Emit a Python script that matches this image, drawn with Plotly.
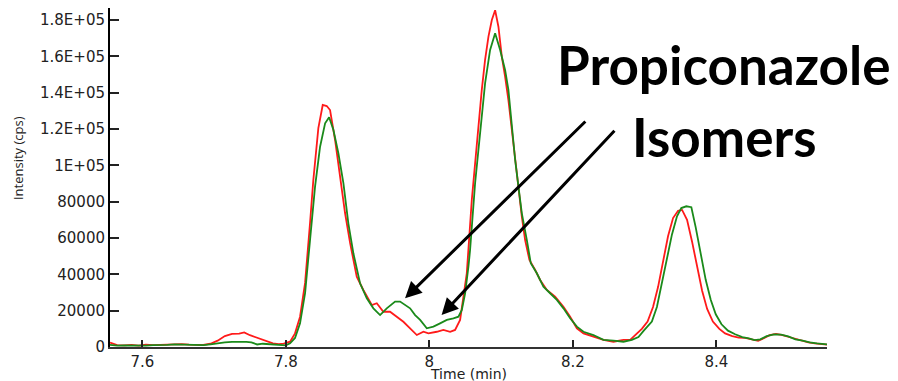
import plotly.graph_objects as go

# ---- data (time in min, intensity in cps) ----
red_time = [7.555, 7.560, 7.565, 7.575, 7.585, 7.595, 7.605, 7.615, 7.625, 7.635, 7.645, 7.655, 7.665,
            7.675, 7.685, 7.695, 7.705, 7.715, 7.725, 7.735, 7.742, 7.750, 7.758, 7.766, 7.774, 7.782,
            7.790, 7.797, 7.8059, 7.8128, 7.8198, 7.8268, 7.8337, 7.8383, 7.8453, 7.8514, 7.8570,
            7.8616, 7.8686, 7.8756, 7.8825, 7.8895, 7.8988, 7.9080, 7.9197, 7.9267, 7.9359, 7.9452,
            7.9546, 7.9638, 7.9731, 7.9825, 7.9917, 7.9986, 8.0103, 8.0195, 8.0289, 8.0358, 8.0428,
            8.0521, 8.0591, 8.0661, 8.0730, 8.0776, 8.0823, 8.0870, 8.0916, 8.0962, 8.1009, 8.1055,
            8.1101, 8.1149, 8.1195, 8.1241, 8.1288, 8.1334, 8.1394, 8.1474, 8.1543, 8.1637, 8.1752,
            8.1868, 8.1961, 8.2055, 8.2147, 8.2286, 8.2425, 8.2565, 8.2704, 8.2797, 8.2867, 8.296,
            8.304, 8.3116, 8.3186, 8.3256, 8.3325, 8.3395, 8.3465, 8.3521, 8.359, 8.366, 8.373,
            8.380, 8.387, 8.395, 8.404, 8.412, 8.422, 8.431, 8.440, 8.449, 8.458, 8.466, 8.474,
            8.483, 8.492, 8.501, 8.510, 8.519, 8.528, 8.537, 8.546, 8.554]
red_intensity = [2400, 1800, 1000, 900, 1200, 800, 1300, 1000, 1200, 1000, 1400, 1600, 1300,
                 1200, 1100, 1800, 3500, 6000, 7200, 7400, 8000, 6500, 5400, 4200, 3000, 2000,
                 1600, 1800, 2900, 7500, 16700, 35300, 68300, 92000, 120500, 133300, 132700,
                 130500, 114000, 93800, 73800, 57300, 38700, 31400, 23100, 24100, 19400, 19400,
                 16700, 13900, 10300, 6600, 8400, 7500, 8400, 9400, 8400, 9400, 14900,
                 40600, 81000, 114000, 141600, 158100, 170900, 180100, 185500, 176400, 159900, 148900,
                 136000, 119500, 103000, 86500, 71800, 58900, 47900, 42400, 36900, 31400, 27700,
                 22200, 16700, 10300, 7500, 5700, 3900, 2900, 3900, 3900, 6500, 10000,
                 14000, 22000, 33000, 47000, 61000, 71000, 75000, 75500, 70000, 58000, 44000,
                 31000, 21000, 14000, 10000, 7500, 6000, 5200, 5000, 4300, 3400, 4800, 6500,
                 7200, 6600, 5500, 4400, 3300, 2500, 2000, 1600, 1300]

green_time = [7.555, 7.565, 7.575, 7.585, 7.595, 7.605, 7.615, 7.625, 7.635, 7.645, 7.655, 7.665,
              7.675, 7.685, 7.695, 7.705, 7.715, 7.725, 7.735, 7.745, 7.752, 7.760, 7.768, 7.776,
              7.784, 7.792, 7.800, 7.8059, 7.8128, 7.8198, 7.8268, 7.8337, 7.8407, 7.8477, 7.8547,
              7.8603, 7.8663, 7.8732, 7.8802, 7.8871, 7.8941, 7.9034, 7.9128, 7.9220, 7.9313,
              7.9406, 7.9522, 7.9592, 7.9661, 7.9731, 7.9801, 7.9871, 7.9964, 8.0056, 8.0149,
              8.0243, 8.0335, 8.0405, 8.0452, 8.0498, 8.0544, 8.0567, 8.0637, 8.0707, 8.0776,
              8.0846, 8.0916, 8.0986, 8.1055, 8.1101, 8.1149, 8.1195, 8.1241, 8.1288, 8.1358,
              8.1413, 8.1497, 8.1589, 8.1682, 8.1776, 8.1868, 8.1961, 8.2055, 8.2147, 8.2286,
              8.2425, 8.2565, 8.2704, 8.2821, 8.2913, 8.2987, 8.310, 8.317, 8.324, 8.331, 8.338,
              8.345, 8.351, 8.358, 8.365, 8.371, 8.378, 8.385, 8.392, 8.399, 8.407, 8.416, 8.426,
              8.436, 8.445, 8.453, 8.461, 8.470, 8.480, 8.490, 8.500, 8.510, 8.520, 8.530, 8.540,
              8.554]
green_intensity = [1200, 800, 900, 800, 1000, 800, 1000, 900, 1200, 1500, 1300, 1000,
                   900, 1000, 1500, 2200, 2500, 2800, 3000, 2800, 2500, 1400, 1800, 1500,
                   1200, 800, 900, 2000, 5000, 13000, 29700, 58900, 88300, 110300, 123200,
                   126500, 119500, 106700, 90200, 68100, 51600, 35100, 26800, 21300, 17600,
                   21300, 25000, 25000, 23100, 21300, 17600, 14900, 10300, 11200, 13000,
                   14900, 15800, 16700, 20400, 29600, 44200, 53400, 90200, 117700, 145200,
                   163600, 172800, 163600, 152600, 141600, 121300, 103000, 88300, 73600, 58900,
                   46100, 40600, 33200, 29600, 25900, 21300, 15800, 11200, 8400, 6600,
                   3900, 3500, 2900, 3900, 5500, 9000, 14000, 22000, 35000, 49000, 62000,
                   72000, 76500, 77500, 77000, 66000, 51000, 37000, 26000, 18000, 12500, 9000, 7000,
                   5500, 4800, 3800, 4200, 6000, 7000, 6800, 5800, 4200, 3500, 2500, 2000,
                   1500]

x_tick_vals = [7.6, 7.8, 8.0, 8.2, 8.4]
x_tick_text = ["7.6", "7.8", "8", "8.2", "8.4"]
y_tick_vals = [0, 20000, 40000, 60000, 80000, 100000, 120000, 140000, 160000, 180000]
y_tick_text = ["0", "20000", "40000", "60000", "80000", "1E+05", "1.2E+05", "1.4E+05", "1.6E+05", "1.8E+05"]

x_range = [7.555, 8.554]
y_range = [0, 186700]

# arrows: (tip time, tip intensity, tail time, tail intensity)
arrow_tips = [(7.9661, 26800, 8.2194, 125000), (8.0170, 17600, 8.2598, 119900)]

title_lines = ["Propiconazole", "Isomers"]

fig = go.Figure()
fig.add_trace(go.Scatter(x=red_time, y=red_intensity, mode="lines",
                         line=dict(color="#ff1a1a", width=1.8), showlegend=False))
fig.add_trace(go.Scatter(x=green_time, y=green_intensity, mode="lines",
                         line=dict(color="#1a8a1a", width=1.8), showlegend=False))

tick_font = dict(family="DejaVu Sans", size=15, color="#222222")
fig.update_layout(
    width=898, height=381,
    margin=dict(l=110, r=71, t=8, b=34),
    paper_bgcolor="white", plot_bgcolor="white",
    xaxis=dict(range=x_range, tickvals=x_tick_vals, ticktext=x_tick_text,
               ticks="inside", ticklen=7, tickwidth=1.5, tickcolor="#222",
               showline=True, linecolor="#333", linewidth=1.5,
               showgrid=False, zeroline=False, tickfont=tick_font),
    yaxis=dict(range=y_range, tickvals=y_tick_vals, ticktext=y_tick_text,
               ticks="inside", ticklen=9, tickwidth=1.5, tickcolor="#222",
               showline=True, linecolor="black", linewidth=2,
               showgrid=False, zeroline=False, tickfont=tick_font),
)

fig.add_annotation(text="Time (min)", xref="paper", yref="paper", x=0.5, y=-0.079,
                   xanchor="center", yanchor="middle", showarrow=False,
                   font=dict(family="DejaVu Sans", size=14, color="#222"))
fig.add_annotation(text="Intensity (cps)", xref="paper", yref="paper",
                   x=-0.128, y=0.558, xanchor="center", yanchor="middle", textangle=-90,
                   showarrow=False, font=dict(family="Open Sans", size=13, color="#222"))

for tx, ty, ax, ay in arrow_tips:
    fig.add_annotation(x=tx, y=ty, ax=ax, ay=ay, xref="x", yref="y", axref="x", ayref="y",
                       text="", showarrow=True, arrowhead=2, arrowsize=1.1, arrowwidth=3,
                       arrowcolor="black", standoff=0)

fig.add_annotation(text=title_lines[0], xref="paper", yref="paper", x=0.8563, y=0.832,
                   xanchor="center", yanchor="middle", showarrow=False,
                   font=dict(family="Lato", size=53, color="black", weight="bold"))
fig.add_annotation(text=title_lines[1], xref="paper", yref="paper", x=0.8563, y=0.622,
                   xanchor="center", yanchor="middle", showarrow=False,
                   font=dict(family="Lato", size=53, color="black", weight="bold"))

fig.write_html("out.html")
